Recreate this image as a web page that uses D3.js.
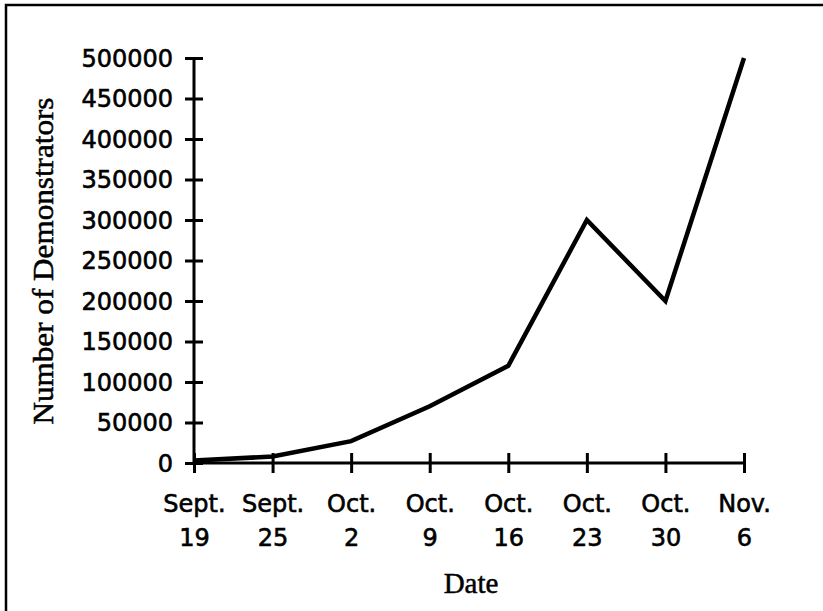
<!DOCTYPE html>
<html>
<head>
<meta charset="utf-8">
<script src="https://cdn.jsdelivr.net/npm/d3@7"></script>
<style>
  body { margin: 0; background: #fff; }
  .tick text { font-family: "DejaVu Sans", sans-serif; font-size: 24px; fill: #000; stroke: #000; stroke-width: 0.6px; }
  .axisTitle { font-family: "Liberation Serif", "Times New Roman", serif; font-size: 29px; fill: #000; stroke: #000; stroke-width: 0.5px; }
</style>
</head>
<body>
<div id="chart"></div>
<script>
// data
const dateMonths = ["Sept.", "Sept.", "Oct.", "Oct.", "Oct.", "Oct.", "Oct.", "Nov."];
const dateDays = ["19", "25", "2", "9", "16", "23", "30", "6"];
const demonstrators = [3000, 8000, 27000, 70000, 120000, 300000, 200000, 500000];
const yTicks = [0, 50000, 100000, 150000, 200000, 250000, 300000, 350000, 400000, 450000, 500000];

const svgWidth = 823;
const svgHeight = 611;

const svg = d3.select("#chart")
  .append("svg")
  .attr("width", svgWidth)
  .attr("height", svgHeight);

// frame (only left and top edges show)
svg.append("rect")
  .attr("x", 6)
  .attr("y", 5)
  .attr("width", 840)
  .attr("height", 640)
  .attr("fill", "none")
  .attr("stroke", "#000")
  .attr("stroke-width", 2.5);

const labels = dateMonths.map((m, i) => m + " " + dateDays[i]);

const xScale = d3.scalePoint()
  .domain(labels)
  .range([194, 744]);

const yScale = d3.scaleLinear()
  .domain([0, 500000])
  .range([463, 58]);

// y axis
const yAxis = svg.append("g")
  .attr("transform", "translate(194,0)")
  .call(d3.axisLeft(yScale).tickValues(yTicks).tickFormat(d3.format("d")).tickSize(9).tickSizeOuter(0).tickPadding(0));
yAxis.select(".domain").attr("stroke-width", 3).attr("d", `M0,${yScale(0)}V${yScale(500000)}`);
yAxis.selectAll(".tick line").attr("x1", -9).attr("x2", 9).attr("stroke-width", 3);
yAxis.selectAll(".tick text")
  .attr("x", -21)
  .attr("dy", "0.35em");

// x axis
const xAxis = svg.append("g")
  .attr("transform", `translate(0,${yScale(0)})`)
  .call(d3.axisBottom(xScale).tickSize(9).tickSizeOuter(0).tickFormat(""));
xAxis.select(".domain").attr("stroke-width", 3).attr("d", `M${xScale.range()[0]},0H${xScale.range()[1]}`);
xAxis.selectAll(".tick line").attr("y1", -10).attr("y2", 10).attr("stroke-width", 3);
xAxis.selectAll(".tick").each(function(d, i) {
  const t = d3.select(this);
  t.append("text").attr("y", 49).attr("text-anchor", "middle").attr("fill", "#000").text(dateMonths[i]);
  t.append("text").attr("y", 83).attr("text-anchor", "middle").attr("fill", "#000").text(dateDays[i]);
});

// line
const line = d3.line()
  .x((d, i) => xScale(labels[i]))
  .y(d => yScale(d));

svg.append("path")
  .datum(demonstrators)
  .attr("d", line)
  .attr("fill", "none")
  .attr("stroke", "#000")
  .attr("stroke-width", 4.5)
  .attr("stroke-linejoin", "miter");

// axis titles
svg.append("text")
  .attr("class", "axisTitle")
  .attr("transform", "translate(53,261) rotate(-90)")
  .attr("text-anchor", "middle")
  .attr("textLength", 327)
  .attr("lengthAdjust", "spacingAndGlyphs")
  .text("Number of Demonstrators");

svg.append("text")
  .attr("class", "axisTitle")
  .attr("x", 471)
  .attr("y", 593)
  .attr("text-anchor", "middle")
  .text("Date");
</script>
</body>
</html>
